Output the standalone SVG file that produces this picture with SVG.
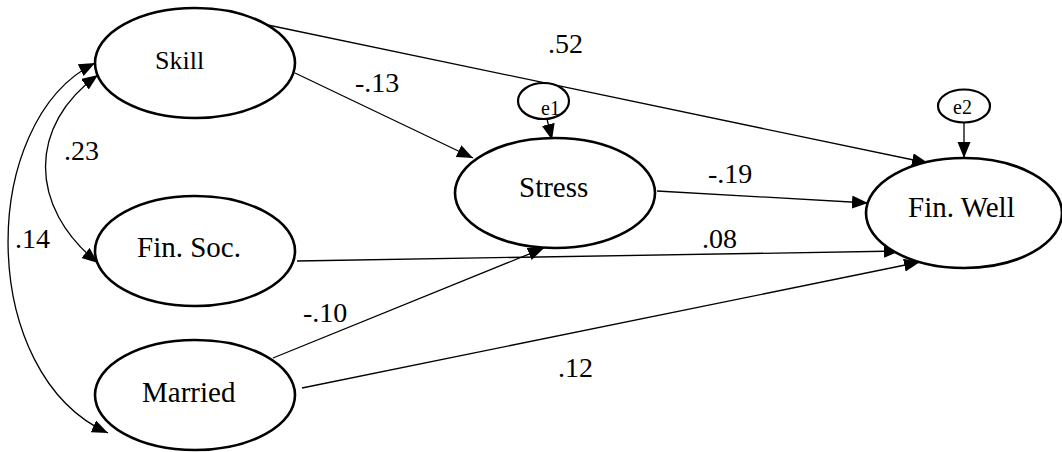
<svg xmlns="http://www.w3.org/2000/svg" width="1062" height="452" viewBox="0 0 1062 452">
<style>
.node{fill:#fff;stroke:#000;stroke-width:2.6}
.err{fill:#fff;stroke:#000;stroke-width:2.2}
text{font-family:'Times New Roman','Liberation Serif',Tinos,'DejaVu Serif',serif;fill:#000}
.lbl{font-size:29px}
.elbl{font-size:28px}
.small{font-size:20px}
.conn{fill:none;stroke:#000;stroke-width:1.3}
</style>
<defs>
<marker id="ah" markerUnits="userSpaceOnUse" markerWidth="17" markerHeight="14" refX="16" refY="6.5" orient="auto-start-reverse">
<path d="M0,0 L16,6.5 L0,13 z" fill="#000"/>
</marker>
</defs>
<g id="connectors">
<path class="conn" d="M263,24 L928,163" marker-end="url(#ah)"/>
<path class="conn" d="M295,73 L473,158" marker-end="url(#ah)"/>
<path class="conn" d="M547,119 L552,140" marker-end="url(#ah)"/>
<path class="conn" d="M657,191 L868,203" marker-end="url(#ah)"/>
<path class="conn" d="M297,261 L900,251" marker-end="url(#ah)"/>
<path class="conn" d="M273,358 L544,248" marker-end="url(#ah)"/>
<path class="conn" d="M302,388 L920,262" marker-end="url(#ah)"/>
<path class="conn" d="M964,123 L964,158" marker-end="url(#ah)"/>
<path class="conn" d="M98,75 C28,125 28,207 98,263" marker-start="url(#ah)" marker-end="url(#ah)"/>
<path class="conn" d="M95,63 C-23,122 -23,374 108,433" marker-start="url(#ah)" marker-end="url(#ah)"/>
</g>
<g id="labels">
<text class="elbl" x="548" y="53">.52</text>
<text class="elbl" x="355" y="92">-.13</text>
<text class="elbl" x="64" y="160">.23</text>
<text class="elbl" x="15" y="248">.14</text>
<text class="elbl" x="708" y="183">-.19</text>
<text class="elbl" x="702" y="248">.08</text>
<text class="elbl" x="303" y="322">-.10</text>
<text class="elbl" x="558" y="377">.12</text>
</g>
<g id="skill">
<ellipse class="node" cx="195" cy="63" rx="100" ry="55"/>
<text class="lbl" x="155" y="69" style="font-size:26px">Skill</text>
</g>
<g id="finsoc">
<ellipse class="node" cx="195" cy="251" rx="100" ry="55"/>
<text class="lbl" x="137" y="257">Fin. Soc.</text>
</g>
<g id="married">
<ellipse class="node" cx="195" cy="395" rx="100" ry="55"/>
<text class="lbl" x="142" y="402">Married</text>
</g>
<g id="stress">
<ellipse class="node" cx="555" cy="193" rx="100" ry="55"/>
<text class="lbl" x="519" y="197">Stress</text>
</g>
<g id="finwell">
<ellipse class="node" cx="964" cy="213" rx="98" ry="55"/>
<text class="lbl" x="908" y="217">Fin. Well</text>
</g>
<g id="e1">
<ellipse class="err" cx="543.5" cy="101" rx="25.5" ry="18"/>
<text class="small" x="541" y="115">e1</text>
</g>
<g id="e2">
<ellipse class="err" cx="964" cy="106" rx="26" ry="16.5"/>
<text class="small" x="953" y="114">e2</text>
</g>
</svg>
